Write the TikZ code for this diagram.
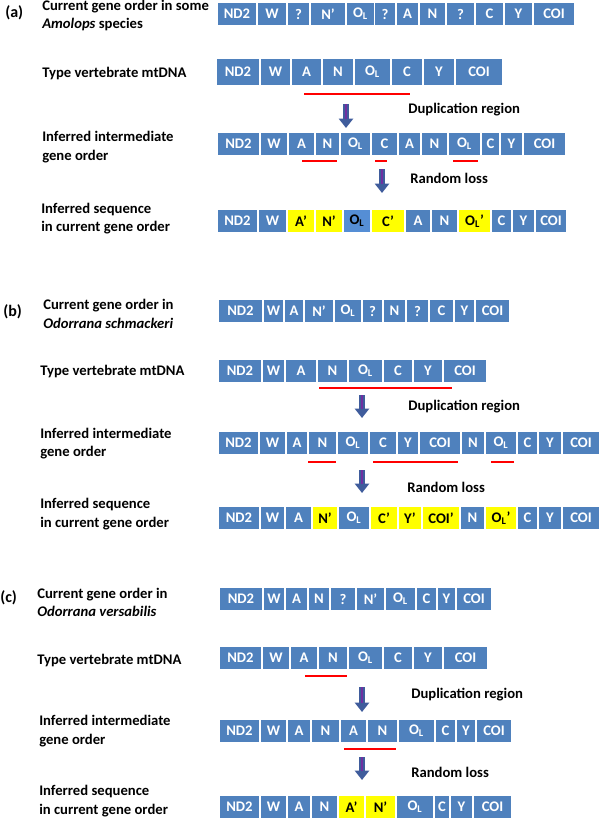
\documentclass[tikz,border=0pt]{standalone}
\usepackage{fontspec}
\setmainfont{Carlito}
\usepackage{xcolor}
\usepackage{tikz}
\usetikzlibrary{arrows.meta,positioning}

\definecolor{geneblue}{HTML}{4F81BD}
\definecolor{lightgene}{HTML}{558ED5}
\definecolor{copyyellow}{HTML}{FFFF00}
\definecolor{dupred}{HTML}{FF0000}
\definecolor{arrowblue}{HTML}{3F5C9C}
\definecolor{arrowpurple}{HTML}{7030A0}

% one row of gene boxes: name, top, height, {left/right/label/style,...}
\newcommand{\generow}[4]{%
  \foreach \xa/\xb/\lab/\sty [count=\i] in {#4}{
    \pgfmathsetmacro{\bw}{(\xb-\xa)*0.75}
    \node[\sty, minimum width=\bw pt, minimum height=#3*0.75pt] (#1-\i) at ({(\xa+\xb)/2},{#2+#3/2}) {\lab};
  }}
\newcommand{\OL}{O\textsubscript{L}}

\begin{document}
\begin{tikzpicture}[x=0.75pt, y=-0.75pt,
                    gene/.style={fill=geneblue, text=white, inner sep=0pt, font=\bfseries\fontsize{11}{13}\selectfont},
                    genecopy/.style={gene, fill=copyyellow, text=black},
                    geneorig/.style={gene, fill=lightgene, text=black},
                    rowlabel/.style={anchor=west, align=left, inner sep=0pt, font=\bfseries\fontsize{11}{13.9}\selectfont},
                    panel/.style={anchor=west, inner sep=0pt, font=\bfseries\fontsize{12}{14}\selectfont},
                    steplabel/.style={anchor=west, inner sep=0pt, font=\bfseries\fontsize{11}{13}\selectfont},
                    dupline/.style={draw=dupred, line width=1.5pt},
                    downarrow/.style={draw=arrowblue, line width=4.5pt, -{Triangle[width=10.5pt,length=7pt]},
                                      postaction={draw=arrowpurple, line width=1.2pt, -, shorten >=7pt}},
                   ]

\useasboundingbox (0,0) rectangle (600,820);

%% (a)
\node[panel] (pa) at (5,13) {(a)};
\node[rowlabel] (la1) at (42,15.5) {Current gene order in some\\\textit{Amolops} species};
\node[rowlabel] (la2) at (42,74) {Type vertebrate mtDNA};
\node[rowlabel] (la3) at (42,147) {Inferred intermediate\\gene order};
\node[rowlabel] (la4) at (41,218.5) {Inferred sequence\\in current gene order};

\generow{a1}{3}{22}{218/256/ND2/gene, 258/286/W/gene, 288/309/?/gene, 311/345/N'/gene, 347/374/\OL/gene,
  375/395/?/gene, 397/418/A/gene, 420/445/N/gene, 447/474/?/gene, 476/503/C/gene, 505/532/Y/gene, 534/574/COI/gene}
\generow{a2}{59}{26}{217/259/ND2/gene, 261/290/W/gene, 292/321/A/gene, 323/353/N/gene, 355/390/\OL/gene,
  392/422/C/gene, 424/454/Y/gene, 456/502/COI/gene}
\generow{a3}{133}{22}{218/259/ND2/gene, 261/287/W/gene, 289/314/A/gene, 316/339/N/gene, 341/370/\OL/gene,
  372/397/C/gene, 399/420/A/gene, 422/447/N/gene, 449/480/\OL/gene, 482/499/C/gene, 501/522/Y/gene, 524/565/COI/gene}
\generow{a4}{210}{22}{218/257/ND2/gene, 259/286/W/gene, 288/314/A'/genecopy, 316/342/N'/genecopy, 344/370/\OL/geneorig,
  372/404/C'/genecopy, 406/430/A/gene, 432/457/N/gene, 459/490/\OL'/genecopy, 492/511/C/gene, 513/534/Y/gene, 536/566/COI/gene}

\draw[dupline] (304,94) -- (410,94);
\draw[dupline] (302,161) -- (337,161);
\draw[dupline] (375,161) -- (387,161);
\draw[dupline] (453,161) -- (478,161);

\coordinate (ad1) at (346,104);
\coordinate (ad2) at (346,128);
\coordinate (al1) at (382,169);
\coordinate (al2) at (382,193);
\draw[downarrow] (ad1) -- (ad2);
\draw[downarrow] (al1) -- (al2);
\node[steplabel] (ta1) at (408,110) {Duplication region};
\node[steplabel] (ta2) at (410,178) {Random loss};

%% (b)
\node[panel] (pb) at (3,312) {(b)};
\node[rowlabel] (lb1) at (43,314) {Current gene order in\\\textit{Odorrana schmackeri}};
\node[rowlabel] (lb2) at (40,372) {Type vertebrate mtDNA};
\node[rowlabel] (lb3) at (40,443.5) {Inferred intermediate\\gene order};
\node[rowlabel] (lb4) at (40,514) {Inferred sequence\\in current gene order};

\generow{b1}{300}{22}{219/262/ND2/gene, 264/283/W/gene, 285/303/A/gene, 305/333/N'/gene, 335/361/\OL/gene,
  363/382/?/gene, 384/405/N/gene, 407/428/?/gene, 430/453/C/gene, 455/474/Y/gene, 476/509/COI/gene}
\generow{b2}{360}{22}{219/261/ND2/gene, 263/284/W/gene, 286/316/A/gene, 318/347/N/gene, 349/382/\OL/gene,
  384/412/C/gene, 414/442/Y/gene, 444/486/COI/gene}
\generow{b3}{432}{22}{219/258/ND2/gene, 260/285/W/gene, 287/307/A/gene, 309/336/N/gene, 338/368/\OL/gene,
  370/396/C/gene, 398/418/Y/gene, 420/460/COI/gene, 462/484/N/gene, 486/516/\OL/gene, 518/537/C/gene, 539/561/Y/gene, 563/599/COI/gene}
\generow{b4}{507}{22}{219/259/ND2/gene, 261/284/W/gene, 286/311/A/gene, 313/337/N'/genecopy, 339/369/\OL/gene,
  371/397/C'/genecopy, 399/421/Y'/genecopy, 423/459/COI'/genecopy, 461/484/N/gene, 486/516/\OL'/genecopy, 518/537/C/gene, 539/561/Y/gene, 563/599/COI/gene}

\draw[dupline] (319,388) -- (452,388);
\draw[dupline] (308,462) -- (336,462);
\draw[dupline] (373,462) -- (458,462);
\draw[dupline] (491,462) -- (514,462);

\coordinate (bd1) at (362,395);
\coordinate (bd2) at (362,418);
\coordinate (bl1) at (362,470);
\coordinate (bl2) at (362,493);
\draw[downarrow] (bd1) -- (bd2);
\draw[downarrow] (bl1) -- (bl2);
\node[steplabel] (tb1) at (408,407) {Duplication region};
\node[steplabel] (tb2) at (407,487) {Random loss};

%% (c)
\node[panel] (pc) at (0,598) {(c)};
\node[rowlabel] (lc1) at (37,602.5) {Current gene order in\\\textit{Odorrana versabilis}};
\node[rowlabel] (lc2) at (37,660) {Type vertebrate mtDNA};
\node[rowlabel] (lc3) at (39,731) {Inferred intermediate\\gene order};
\node[rowlabel] (lc4) at (39,801) {Inferred sequence\\in current gene order};

\generow{c1}{588}{22}{220/262/ND2/gene, 264/284/W/gene, 286/307/A/gene, 309/329/N/gene, 331/355/?/gene,
  357/384/N'/gene, 386/415/\OL/gene, 417/436/C/gene, 438/455/Y/gene, 457/491/COI/gene}
\generow{c2}{647}{22}{220/261/ND2/gene, 263/289/W/gene, 291/317/A/gene, 319/347/N/gene, 349/382/\OL/gene,
  384/412/C/gene, 414/442/Y/gene, 444/487/COI/gene}
\generow{c3}{720}{22}{220/259/ND2/gene, 261/286/W/gene, 288/310/A/gene, 312/339/N/gene, 341/366/A/gene,
  368/397/N/gene, 399/434/\OL/gene, 436/455/C/gene, 457/475/Y/gene, 477/511/COI/gene}
\generow{c4}{796}{22}{220/259/ND2/gene, 261/286/W/gene, 288/310/A/gene, 312/337/N/gene, 339/364/A'/genecopy,
  366/395/N'/genecopy, 397/433/\OL/gene, 435/449/C/gene, 451/472/Y/gene, 474/511/COI/gene}

\draw[dupline] (305,676) -- (347,676);
\draw[dupline] (344,749) -- (396,749);

\coordinate (cd1) at (362,687);
\coordinate (cd2) at (362,712);
\coordinate (cl1) at (362,757);
\coordinate (cl2) at (362,780);
\draw[downarrow] (cd1) -- (cd2);
\draw[downarrow] (cl1) -- (cl2);
\node[steplabel] (tc1) at (411,695) {Duplication region};
\node[steplabel] (tc2) at (411,772) {Random loss};

\end{tikzpicture}
\end{document}
